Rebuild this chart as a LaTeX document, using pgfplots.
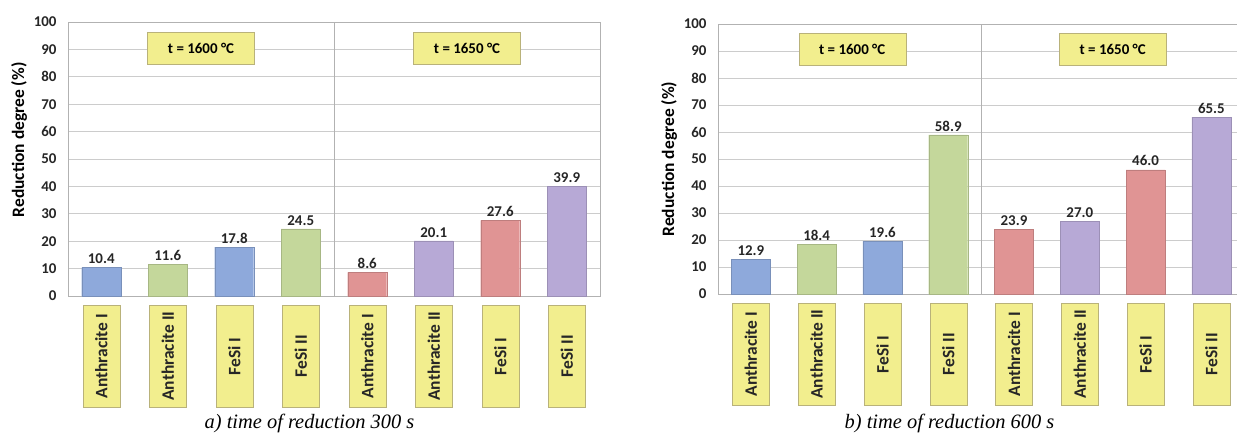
\documentclass[border=0pt]{standalone}
\usepackage{pgfplots}
\pgfplotsset{compat=1.18}
\usepackage{fontspec}
\setmainfont{Carlito}
\newfontfamily\capfont{Liberation Serif}
\definecolor{cblue}{HTML}{8EA9DB}
\definecolor{cgreen}{HTML}{C4D79B}
\definecolor{cred}{HTML}{E09494}
\definecolor{cpurple}{HTML}{B7A9D6}
\definecolor{labyellow}{HTML}{F2EE8E}
\definecolor{labborder}{HTML}{B9B27A}
\pgfplotsset{panel/.style={
  scale only axis,
  ymin=0, ymax=100, ytick={0,10,...,100},
  xmin=-0.5, xmax=7.5, xtick={0,...,7},
  xticklabels={Anthracite I, Anthracite II, FeSi I, FeSi II, Anthracite I, Anthracite II, FeSi I, FeSi II},
  ymajorgrids, grid style={gray!40, line width=0.7bp},
  axis line style={gray!60, line width=0.7bp},
  major tick length=0pt,
  /pgf/number format/assume math mode=true,
  tick label style={font=\fontsize{15}{17}\selectfont\bfseries, text=black!85},
  yticklabel style={xshift=-8bp},
  xticklabel style={yshift=-9bp, rotate=90, anchor=east, fill=labyellow, draw=labborder,
    minimum width=102bp, minimum height=37bp, inner sep=0pt, font=\fontsize{17.5}{19}\selectfont\bfseries},
  ybar, bar width=39bp, bar shift=0pt,
  nodes near coords={\pgfmathprintnumber[fixed,fixed zerofill,precision=1]{\pgfplotspointmeta}},
  every node near coord/.append style={font=\fontsize{15}{17}\selectfont\bfseries, text=black!85, inner sep=3.5bp},
  ylabel={Reduction degree (\%)},
  ylabel style={font=\fontsize{17.5}{19}\selectfont\bfseries, anchor=center},
  clip=false,
}}
\tikzset{tbox/.style={fill=labyellow, draw=labborder, minimum width=107bp, minimum height=32bp,
  inner sep=0pt, font=\fontsize{15}{17}\selectfont\bfseries}}
\begin{document}
\begin{tikzpicture}
\path[use as bounding box] (0,0) rectangle (1237bp,434bp);
% Left panel
\begin{axis}[panel, at={(68bp,138bp)}, anchor=south west, width=532bp, height=274bp,
  ylabel style={at={(axis description cs:-0.092,0.57)}}]
\addplot[fill=cblue, draw=cblue!85!black] coordinates {(0,10.4) (2,17.8)};
\addplot[fill=cgreen, draw=cgreen!85!black] coordinates {(1,11.6) (3,24.5)};
\addplot[fill=cred, draw=cred!85!black] coordinates {(4,8.6) (6,27.6)};
\addplot[fill=cpurple, draw=cpurple!85!black] coordinates {(5,20.1) (7,39.9)};
\draw[gray!60, line width=0.7bp] (axis cs:3.5,0) -- (axis cs:3.5,100);
\node[tbox] at (axis cs:1.5,90.5) {t = 1600 °C};
\node[tbox] at (axis cs:5.5,90.5) {t = 1650 °C};
\end{axis}
% Right panel
\begin{axis}[panel, at={(718bp,140bp)}, anchor=south west, width=519bp, height=270bp,
  xmax=7.39,
  ylabel style={at={(axis description cs:-0.094,0.50)}}]
\addplot[fill=cblue, draw=cblue!85!black] coordinates {(0,12.9) (2,19.6)};
\addplot[fill=cgreen, draw=cgreen!85!black] coordinates {(1,18.4) (3,58.9)};
\addplot[fill=cred, draw=cred!85!black] coordinates {(4,23.9) (6,46.0)};
\addplot[fill=cpurple, draw=cpurple!85!black] coordinates {(5,27.0) (7,65.5)};
\draw[gray!60, line width=0.7bp] (axis cs:3.5,0) -- (axis cs:3.5,100);
\node[tbox] at (axis cs:1.54,90.6) {t = 1600 °C};
\node[tbox] at (axis cs:5.5,90.6) {t = 1650 °C};
\end{axis}
\node[font=\capfont\itshape\fontsize{20.5}{22}\selectfont, anchor=base] at (309.5bp,6bp) {a) time of reduction 300 s};
\node[font=\capfont\itshape\fontsize{20.5}{22}\selectfont, anchor=base] at (949.5bp,6bp) {b) time of reduction 600 s};
\end{tikzpicture}
\end{document}
